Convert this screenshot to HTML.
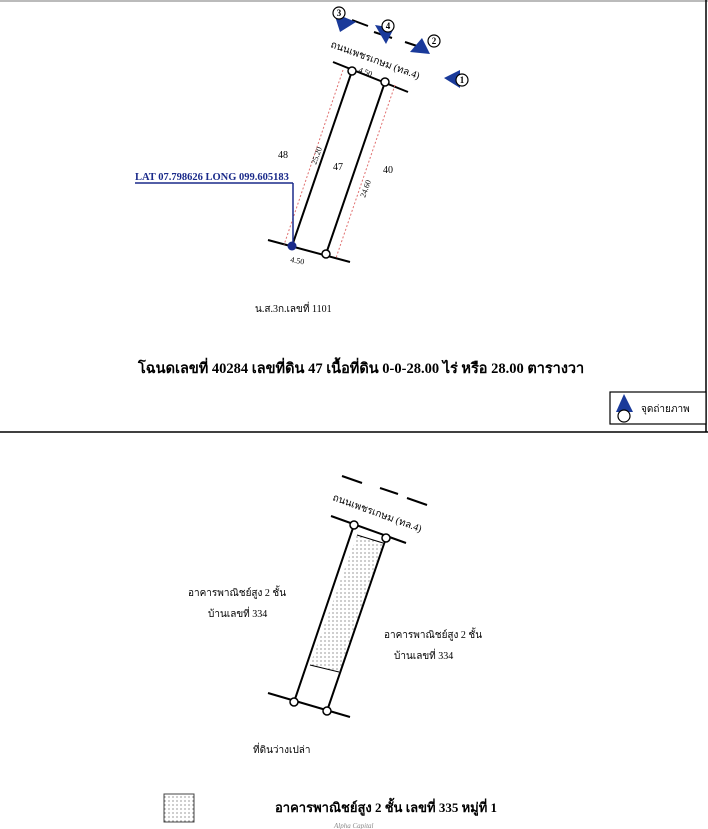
<!DOCTYPE html>
<html><head><meta charset="utf-8"><style>
body{margin:0;background:#fff;width:708px;height:829px;overflow:hidden}
svg{display:block}
text{font-family:"Liberation Serif","DejaVu Sans",serif}
</style></head><body>
<svg width="708" height="829" viewBox="0 0 708 829" xmlns="http://www.w3.org/2000/svg">
<defs><pattern id="dots" width="4" height="4" patternUnits="userSpaceOnUse"><circle cx="1" cy="1" r="0.6" fill="#555"/></pattern></defs>
<line x1="0" y1="1" x2="708" y2="1" stroke="#bbb" stroke-width="2"/>
<line x1="706" y1="0" x2="706" y2="432" stroke="#000" stroke-width="1.5"/>
<line x1="0" y1="432" x2="708" y2="432" stroke="#000" stroke-width="1.5"/>
<g stroke="#000" stroke-width="2" fill="none">
<line x1="333" y1="62" x2="408" y2="92"/>
<line x1="268" y1="240" x2="350" y2="262"/>
<line x1="352" y1="71" x2="292" y2="246"/>
<line x1="385" y1="82" x2="326" y2="254"/>
<line x1="352" y1="20" x2="368" y2="26"/>
<line x1="374" y1="32" x2="392" y2="38"/>
<line x1="405" y1="42" x2="420" y2="47"/>
</g>
<g stroke="#e07070" stroke-width="1" stroke-dasharray="2,2" fill="none">
<line x1="343" y1="70" x2="284" y2="245"/>
<line x1="395" y1="85" x2="336" y2="258"/>
</g>
<g fill="#fff" stroke="#000" stroke-width="1.5">
<circle cx="352" cy="71" r="4"/><circle cx="385" cy="82" r="4"/><circle cx="326" cy="254" r="4"/>
</g>
<circle cx="292" cy="246" r="4.5" fill="#1a2a8a"/>
<line x1="135" y1="183" x2="293" y2="183" stroke="#1a2a8a" stroke-width="1.5"/>
<line x1="293" y1="183" x2="293" y2="244" stroke="#1a2a8a" stroke-width="1.5"/>
<text x="135" y="180" font-size="10.5" font-weight="bold" fill="#1a2a8a">LAT 07.798626  LONG 099.605183</text>
<text x="278" y="158" font-size="10">48</text>
<text x="333" y="170" font-size="10">47</text>
<text x="383" y="173" font-size="10">40</text>
<text x="316" y="165" font-size="8" transform="rotate(-70 316 165)">25.20</text>
<text x="365" y="198" font-size="8" transform="rotate(-70 365 198)">24.60</text>
<text x="358" y="72" font-size="8" transform="rotate(20 358 72)">4.50</text>
<text x="290" y="262" font-size="8" transform="rotate(10 290 262)">4.50</text>
<text x="330" y="47" font-size="10" transform="rotate(20 330 47)">ถนนเพชรเกษม (ทล.4)</text>
<g fill="#1a3a9a">
<polygon points="334,13 356,22 340,32"/>
<polygon points="375,25 394,28 386,44"/>
<polygon points="422,38 430,54 410,52"/>
<polygon points="444,78 460,70 460,88"/>
</g>
<g fill="#fff" stroke="#000" stroke-width="1.2">
<circle cx="339" cy="13" r="6"/><circle cx="388" cy="26" r="6"/><circle cx="434" cy="41" r="6"/><circle cx="462" cy="80" r="6"/>
</g>
<g font-size="9" text-anchor="middle" font-family="Liberation Sans,sans-serif" font-weight="bold">
<text x="339" y="16">3</text><text x="388" y="29">4</text><text x="434" y="44">2</text><text x="462" y="83">1</text>
</g>
<text x="255" y="312" font-size="10">น.ส.3ก.เลขที่ 1101</text>
<text x="138" y="373" font-size="14.5" font-weight="bold">โฉนดเลขที่ 40284 เลขที่ดิน 47 เนื้อที่ดิน 0-0-28.00 ไร่ หรือ 28.00  ตารางวา</text>
<rect x="610" y="392" width="96" height="32" fill="#fff" stroke="#000" stroke-width="1.2"/>
<polygon points="624,394 616,412 633,412" fill="#1a3a9a"/>
<circle cx="624" cy="416" r="6" fill="#fff" stroke="#000" stroke-width="1.2"/>
<text x="641" y="412" font-size="10">จุดถ่ายภาพ</text>
<polygon points="357,535 383,543 339,672 310,665" fill="url(#dots)"/>
<g stroke="#000" stroke-width="2" fill="none">
<line x1="342" y1="476" x2="362" y2="483"/>
<line x1="380" y1="488" x2="398" y2="494"/>
<line x1="407" y1="498" x2="427" y2="505"/>
<line x1="331" y1="516" x2="406" y2="543"/>
<line x1="268" y1="693" x2="350" y2="717"/>
<line x1="354" y1="525" x2="294" y2="702"/>
<line x1="386" y1="538" x2="327" y2="711"/>
</g>
<g stroke="#000" stroke-width="1" fill="none">
<line x1="357" y1="535" x2="383" y2="543"/>
<line x1="310" y1="665" x2="339" y2="672"/>
</g>
<g fill="#fff" stroke="#000" stroke-width="1.5">
<circle cx="354" cy="525" r="4"/><circle cx="386" cy="538" r="4"/><circle cx="294" cy="702" r="4"/><circle cx="327" cy="711" r="4"/>
</g>
<text x="332" y="500" font-size="10" transform="rotate(20 332 500)">ถนนเพชรเกษม (ทล.4)</text>
<text x="188" y="596" font-size="10">อาคารพาณิชย์สูง 2 ชั้น</text>
<text x="208" y="617" font-size="10">บ้านเลขที่ 334</text>
<text x="384" y="638" font-size="10">อาคารพาณิชย์สูง 2 ชั้น</text>
<text x="394" y="659" font-size="10">บ้านเลขที่ 334</text>
<text x="253" y="753" font-size="10">ที่ดินว่างเปล่า</text>
<rect x="164" y="794" width="30" height="28" fill="url(#dots)" stroke="#444" stroke-width="1"/>
<text x="275" y="812" font-size="13" font-weight="bold">อาคารพาณิชย์สูง 2 ชั้น เลขที่ 335 หมู่ที่ 1</text>
<text x="334" y="828" font-size="7" font-style="italic" fill="#888">Alpha Capital</text>
</svg>
</body></html>
